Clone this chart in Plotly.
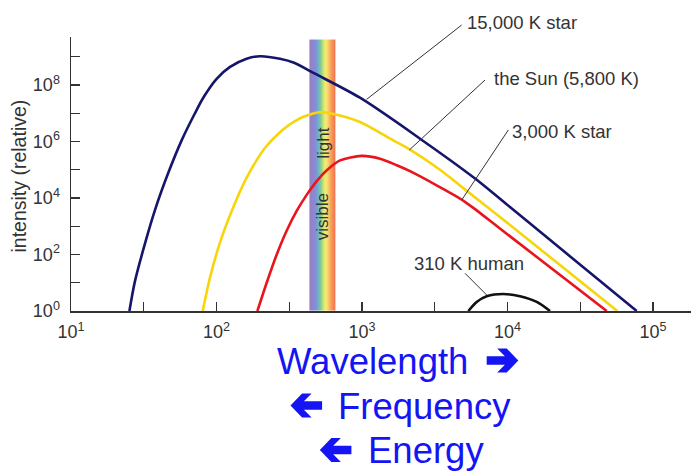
import numpy as np
import plotly.graph_objects as go

FONT = "Liberation Sans, Arial, Helvetica, sans-serif"

# ---------------- data ----------------
# wavelength in nm, intensity given as log10 exponent (relative)
star15000_nm = [25.2, 27.5, 32.3, 37.8, 46.7, 57.7, 71.1, 81.1, 100.2, 123.9,
                161.1, 199.1, 272.9, 341.2, 475.3, 968.3, 2506, 5984, 10399, 25119, 77268]
star15000_logI = [0, 1.05, 2.40, 3.58, 4.90, 6.05, 7.00, 7.55, 8.22, 8.64,
                  8.93, 9.02, 8.93, 8.79, 8.40, 7.55, 6.10, 4.69, 3.68, 2.06, 0]

sun_nm = [80.4, 90.2, 104.7, 127.1, 161.1, 213.8, 272.9, 355.6, 462.4, 518.8,
          706.3, 968.3, 1641, 2138, 3436, 4966, 8872, 56885]
sun_logI = [0, 1.18, 2.36, 3.53, 4.72, 5.75, 6.33, 6.76, 6.99, 7.04,
            6.92, 6.69, 6.04, 5.71, 5.00, 4.35, 3.33, 0]

star3000_nm = [191.0, 221.3, 259.4, 304.1, 356.5, 417.8, 488.7, 572.8, 706.3, 995.4,
               1330, 1734, 2138, 3258, 4721, 5821, 8872, 48084]
star3000_logI = [0, 1.0, 2.0, 2.85, 3.55, 4.12, 4.60, 4.98, 5.33, 5.49,
                 5.39, 5.16, 4.95, 4.45, 3.98, 3.65, 2.92, 0]

human_nm = [5383, 6138, 7194, 9354, 12190, 15880, 19590]
human_logI = [0, 0.32, 0.52, 0.60, 0.52, 0.32, 0]

visible_nm = [435, 661]
visible_top_logI = 9.61

x_tick_exp = [1, 2, 3, 4, 5]
x_minor_exp = [1.5, 2.5, 3.5, 4.5]
y_tick_exp = [0, 2, 4, 6, 8]
y_minor_exp = [1, 3, 5, 7, 9]

labels = ["15,000 K star", "the Sun (5,800 K)", "3,000 K star", "310 K human"]

# ---------------- geometry helpers ----------------
W_FIG, H_FIG = 691, 471
L, T, W, H = 71, 37, 620, 274


def px(x):
    return (x - L) / W


def py(y):
    return (T + H - y) / H


fig = go.Figure()

# visible band (rainbow)
N = 80
edges = np.logspace(np.log10(visible_nm[0]), np.log10(visible_nm[1]), N + 1)
rainbow = [
    [0.00, "#9c7fc2"], [0.12, "#8f84cf"], [0.24, "#7f92d8"], [0.34, "#6cb6c4"],
    [0.44, "#8ccf8c"], [0.53, "#cfe672"], [0.60, "#f7ee74"], [0.70, "#fbd26c"],
    [0.82, "#f8a45a"], [1.00, "#f06c52"],
]
fig.add_trace(go.Heatmap(
    x=edges, y=[1, 10 ** visible_top_logI], z=[list(range(N))],
    colorscale=rainbow, showscale=False, hoverinfo="skip",
))

curves = [
    (star15000_nm, star15000_logI, "#15166b"),
    (sun_nm, sun_logI, "#f6d60a"),
    (star3000_nm, star3000_logI, "#e8151d"),
    (human_nm, human_logI, "#111111"),
]
for xs, ls, col in curves:
    fig.add_trace(go.Scatter(
        x=xs, y=[10 ** v for v in ls], mode="lines",
        line=dict(color=col, width=2.6, shape="spline", smoothing=0.8),
        hoverinfo="skip", showlegend=False,
    ))

sup = lambda e: f"10<sup>{e}</sup>"

fig.update_layout(
    width=W_FIG, height=H_FIG,
    margin=dict(l=L, r=W_FIG - L - W, t=T, b=H_FIG - T - H, autoexpand=False),
    paper_bgcolor="white", plot_bgcolor="white",
    showlegend=False,
    font=dict(family=FONT, color="#333333"),
    xaxis=dict(
        type="log", range=[1, 1 + W / 145.5], automargin=False,
        showline=True, linecolor="#333333", linewidth=1.5,
        showgrid=False, zeroline=False,
        ticks="inside", ticklen=9, tickwidth=1.2, tickcolor="#333333",
        tickmode="array", tickvals=[10 ** e for e in x_tick_exp],
        ticktext=[sup(e) for e in x_tick_exp],
        tickfont=dict(size=18, color="#333333", family=FONT),
        ticklabelstandoff=4,
        minor=dict(tickmode="array", tickvals=[10 ** e for e in x_minor_exp],
                   ticks="inside", ticklen=9, tickwidth=1.2, tickcolor="#333333"),
    ),
    yaxis=dict(
        type="log", range=[0, 9.7], automargin=False,
        showline=True, linecolor="#333333", linewidth=1.5,
        showgrid=False, zeroline=False,
        ticks="inside", ticklen=9, tickwidth=1.2, tickcolor="#333333",
        tickmode="array", tickvals=[10 ** e for e in y_tick_exp],
        ticktext=[sup(e) for e in y_tick_exp],
        tickfont=dict(size=18, color="#333333", family=FONT),
        ticklabelstandoff=6,
        minor=dict(tickmode="array", tickvals=[10 ** e for e in y_minor_exp],
                   ticks="inside", ticklen=9, tickwidth=1.2, tickcolor="#333333"),
    ),
)

annots = []
# axis title
annots.append(dict(text="intensity (relative)", xref="paper", yref="paper",
                   x=px(18.5), y=py(176), textangle=-90, showarrow=False,
                   font=dict(size=19.5, color="#333333", family=FONT),
                   xanchor="center", yanchor="middle"))
# band texts
annots.append(dict(text="light", xref="paper", yref="paper", x=px(322.7), y=py(143),
                   textangle=-90, showarrow=False,
                   font=dict(size=17, color="#333333", family=FONT)))
annots.append(dict(text="visible", xref="paper", yref="paper", x=px(322.7), y=py(242),
                   textangle=-90, showarrow=False,
                   font=dict(size=17, color="#333333", family=FONT)))
# curve labels
label_pos = [(465, 22.7), (492, 78.3), (510, 131), (412, 263.3)]
for txt, (lx, ly) in zip(labels, label_pos):
    annots.append(dict(text=txt, xref="paper", yref="paper", x=px(lx), y=py(ly),
                       xanchor="left", yanchor="middle", showarrow=False,
                       font=dict(size=18.5, color="#333333", family=FONT)))
# bottom texts
BLUE = "#1414f5"
for txt, lx, ly in [("Wavelength", 275, 361.7), ("Frequency", 336, 406.5), ("Energy", 366, 450.5)]:
    annots.append(dict(text=txt, xref="paper", yref="paper", x=px(lx), y=py(ly),
                       xanchor="left", yanchor="middle", showarrow=False,
                       font=dict(size=36.5, color=BLUE, family=FONT)))
fig.update_layout(annotations=annots)

shapes = []
# leader lines
leaders = [((366.7, 99.3), (461.7, 25)), ((409.3, 150), (485, 80)),
           ((461.7, 200), (508.3, 130)), ((486.7, 295), (465, 273.3))]
for (x0, y0), (x1, y1) in leaders:
    shapes.append(dict(type="line", xref="paper", yref="paper",
                       x0=px(x0), y0=py(y0), x1=px(x1), y1=py(y1),
                       line=dict(color="#333333", width=1)))

# arrows
arrow = [(0, -4.3), (18.2, -4.3), (10.5, -12), (20, -12), (31.6, 0),
         (20, 12), (10.5, 12), (18.2, 4.3), (0, 4.3)]


def arrow_path(x0, cy, right=True):
    pts = []
    for dx, dy in arrow:
        xx = x0 + dx if right else x0 + 31.6 - dx
        pts.append((px(xx), py(cy + dy)))
    return "M " + " L ".join(f"{a:.5f},{b:.5f}" for a, b in pts) + " Z"


for x0, cy, right in [(486.7, 360.5, True), (290.5, 405.5, False), (319.8, 450, False)]:
    shapes.append(dict(type="path", xref="paper", yref="paper",
                       path=arrow_path(x0, cy, right),
                       fillcolor=BLUE, line=dict(width=0), layer="above"))
fig.update_layout(shapes=shapes)

fig.write_html(
    "out.html",
    config={"displayModeBar": False, "staticPlot": True},
    post_script="document.body.style.margin='0';document.body.style.padding='0';"
                "document.body.style.overflow='hidden';",
)
